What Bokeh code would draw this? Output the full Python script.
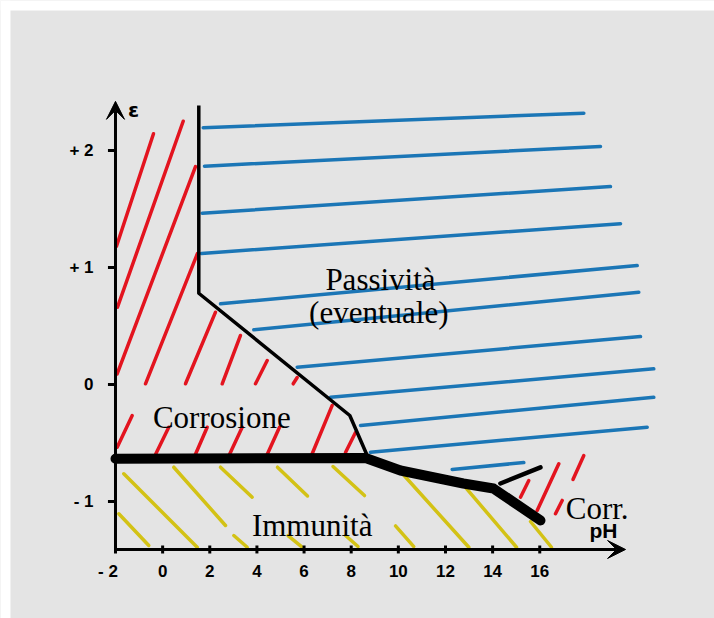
from bokeh.plotting import figure
from bokeh.models import ColumnDataSource, Range1d, Arrow, VeeHead, BoxAnnotation
from bokeh.embed import file_html
from bokeh.resources import INLINE
from bokeh.core.properties import value

# ---------------- data (pH, E) ----------------
# red hatch: corrosion region
red_ph0 = [-1.958, -1.915, -1.930, -0.727, 0.970, 2.527, 3.940, 5.539,
           -1.928, -0.303, 1.352, 2.837, 4.436, 6.345, 7.758,
           15.183, 15.891, 17.410, 16.668]
red_e0 = [1.182, 0.661, 0.091, 0.006, 0.006, 0.006, 0.006, 0.006,
          -0.536, -0.598, -0.615, -0.598, -0.598, -0.592, -0.581,
          -0.963, -1.077, -0.812, -1.105]
red_ph1 = [-0.388, 0.872, 1.394, 1.479, 2.243, 3.303, 4.436, 5.709,
           -1.291, 0.261, 1.891, 3.375, 4.958, 7.194, 8.182,
           15.535, 16.808, 17.869, 16.952]
red_e1 = [2.143, 2.250, 1.863, 1.120, 0.618, 0.419, 0.205, 0.060,
          -0.265, -0.365, -0.365, -0.365, -0.365, -0.179, -0.410,
          -0.821, -0.678, -0.607, -0.991]

# blue hatch: passivity region
blue_ph0 = [1.721, 1.776, 1.678, 1.649, 2.455, 3.868, 5.709, 7.122, 8.395, 8.819, 12.285]
blue_e0 = [2.194, 1.866, 1.464, 1.120, 0.690, 0.468, 0.148, -0.109, -0.350, -0.579, -0.726]
blue_ph1 = [17.869, 18.577, 19.001, 19.426, 20.134, 20.202, 20.274, 20.838, 20.838, 20.558, 15.323]
blue_e1 = [2.319, 2.034, 1.692, 1.374, 1.017, 0.789, 0.410, 0.134, -0.109, -0.365, -0.667]

# yellow hatch: immunity region
yel_ph0 = [-1.648, -1.860, 0.473, 3.019, 2.455, 4.873, 5.319, 7.228, 7.758, 9.880, 10.092, 12.777, 15.607]
yel_e0 = [-0.763, -1.105, -0.707, -1.291, -0.707, -0.707, -1.291, -0.701, -1.291, -1.209, -0.744, -0.863, -1.171]
yel_ph1 = [1.466, -0.587, 2.667, 3.588, 3.800, 6.146, 5.891, 8.564, 8.289, 10.656, 12.990, 15.013, 16.498]
yel_e1 = [-1.391, -1.376, -1.205, -1.391, -0.963, -0.953, -1.385, -0.949, -1.385, -1.385, -1.391, -1.391, -1.391]

# boundaries
thin_ph = [1.534, 1.534, 7.941, 8.679]
thin_e = [2.385, 0.780, -0.265, -0.607]
thick_ph = [-2.0, 8.61, 10.09, 12.76, 14.04, 16.03]
thick_e = [-0.635, -0.628, -0.735, -0.846, -0.889, -1.162]
branch_ph = [14.33, 16.03]
branch_e = [-0.846, -0.709]

# axes
axis_x0 = -2.0
axis_y0 = -1.41
axis_x_end = 19.64
axis_y_end = 2.42
x_ticks = [-2, 0, 2, 4, 6, 8, 10, 12, 14, 16]
x_tick_labels = ["- 2", "0", "2", "4", "6", "8", "10", "12", "14", "16"]
y_ticks = [2, 1, 0, -1]
y_tick_labels = ["+ 2", "+ 1", "0", "- 1"]

# region labels
region_names = ["Passività", "(eventuale)", "Corrosione", "Immunità", "Corr."]
region_ph = [9.243, 9.171, 2.510, 6.345, 18.437]
region_e = [0.895, 0.618, -0.279, -1.205, -1.062]

# ---------------- figure ----------------
BG = "#e4e4e4"
p = figure(width=714, height=618, output_backend="svg", toolbar_location=None,
           x_range=Range1d(-6.879, 23.414), y_range=Range1d(-2.0, 3.282),
           x_axis_location=None, y_axis_location=None, min_border=0,
           background_fill_color=BG, border_fill_color=BG, outline_line_color=None)
p.grid.visible = False

# white paper margin at the left and top of the scanned page
p.add_layout(BoxAnnotation(right=-6.455, fill_color="white", fill_alpha=1,
                           line_color=None, level="underlay"))
p.add_layout(BoxAnnotation(bottom=3.1966, fill_color="white", fill_alpha=1,
                           line_color=None, level="underlay"))

def seg(ph0, e0, ph1, e1, color, w):
    src = ColumnDataSource(dict(x0=ph0, y0=e0, x1=ph1, y1=e1))
    p.segment("x0", "y0", "x1", "y1", source=src, line_color=color,
              line_width=w, line_cap="round")

seg(red_ph0, red_e0, red_ph1, red_e1, "#e3141f", 3.5)
seg(blue_ph0, blue_e0, blue_ph1, blue_e1, "#1b76b6", 3.5)
seg(yel_ph0, yel_e0, yel_ph1, yel_e1, "#d3c215", 3.5)

# boundaries
p.line(thin_ph, thin_e, line_color="black", line_width=3.5, line_join="round")
p.line(thick_ph, thick_e, line_color="black", line_width=10,
       line_join="round", line_cap="round")
p.line(branch_ph, branch_e, line_color="black", line_width=4.5, line_cap="round")

# axes
p.add_layout(Arrow(x_start=axis_x0, y_start=axis_y0, x_end=axis_x0, y_end=axis_y_end,
                   line_width=3, line_color="black",
                   end=VeeHead(size=18, fill_color="black", line_color="black")))
p.add_layout(Arrow(x_start=axis_x0, y_start=axis_y0, x_end=axis_x_end, y_end=axis_y0,
                   line_width=3, line_color="black",
                   end=VeeHead(size=18, fill_color="black", line_color="black")))

p.segment(x0=x_ticks, y0=[axis_y0 + 0.034] * len(x_ticks),
          x1=x_ticks, y1=[axis_y0 - 0.034] * len(x_ticks),
          line_color="black", line_width=3)
p.segment(x0=[axis_x0 - 0.32] * len(y_ticks), y0=y_ticks,
          x1=[axis_x0] * len(y_ticks), y1=y_ticks,
          line_color="black", line_width=3)

tick_font = value("Liberation Sans")
p.text(x=x_ticks[1:], y=[-1.598] * (len(x_ticks) - 1), text=x_tick_labels[1:],
       text_font=tick_font, text_font_style="bold", text_font_size="17px",
       text_align="center", text_baseline="middle", text_color="black")
p.text(x=[x_ticks[0] + 0.1], y=[-1.598], text=[x_tick_labels[0]],
       text_font=tick_font, text_font_style="bold", text_font_size="17px",
       text_align="right", text_baseline="middle", text_color="black")
p.text(x=[axis_x0 - 0.93] * len(y_ticks), y=y_ticks, text=y_tick_labels,
       text_font=tick_font, text_font_style="bold", text_font_size="17px",
       text_align="right", text_baseline="middle", text_color="black")

p.text(x=[-1.236], y=[2.342], text=["ε"], text_font=value("DejaVu Sans"),
       text_font_style="bold", text_font_size="20px", text_align="center",
       text_baseline="middle", text_color="black")
p.text(x=[18.70], y=[-1.248], text=["pH"], text_font=tick_font, text_font_style="bold",
       text_font_size="21px", text_align="center", text_baseline="middle",
       text_color="black")

p.text(x=region_ph, y=region_e, text=region_names,
       text_font=value("Liberation Serif"), text_font_size="31px",
       text_align="center", text_baseline="alphabetic", text_color="black")

open("out.html", "w").write(file_html(p, INLINE))
